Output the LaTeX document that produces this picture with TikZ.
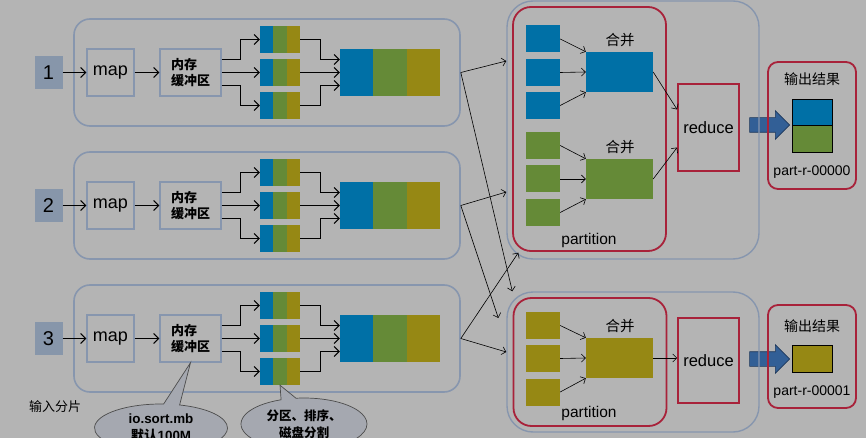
\documentclass[tikz,border=0pt]{standalone}
\usepackage{fontspec}
\setmainfont{Liberation Sans}
\newfontfamily\cjk{Noto Sans CJK SC}
\usetikzlibrary{positioning,calc,arrows.meta,shapes.callouts,shapes.arrows}

\definecolor{bgc}{RGB}{180,180,180}
\definecolor{cblue}{RGB}{0,112,166}
\definecolor{cgreen}{RGB}{101,138,55}
\definecolor{colive}{RGB}{150,136,20}
\definecolor{framec}{RGB}{135,150,174}
\definecolor{redc}{RGB}{168,34,58}
\definecolor{inc}{RGB}{135,150,170}
\definecolor{notec}{RGB}{165,168,176}
\definecolor{arrowc}{RGB}{50,95,150}
\definecolor{arrowd}{RGB}{30,55,90}

\begin{document}
\begin{tikzpicture}[x=1pt,y=-1pt,
  >={Straight Barb[length=5pt,width=10pt]},
  group/.style={draw=framec, line width=1.6pt, rounded corners=16pt, minimum width=386pt, minimum height=107pt},
  inbox/.style={fill=inc, minimum width=28pt, minimum height=33pt, inner sep=0pt, font=\fontsize{20}{24}\selectfont},
  box/.style={draw=framec, line width=1.4pt, minimum height=47pt, inner sep=0pt},
  tri/.style={inner sep=0pt, path picture={
    \foreach \col [count=\j from 0] in {cblue,cgreen,colive}
      \fill[\col] let \p1=(path picture bounding box.south west),
                      \p2=(path picture bounding box.north east) in
        ({\x1+\j*(\x2-\x1)/3},\y1) rectangle ({\x1+(\j+1)*(\x2-\x1)/3},\y2);
  }},
  flow/.style={->, line width=1pt},
  thin/.style={->, line width=0.6pt, >={Straight Barb[length=4pt,width=8pt]}},
  rframe/.style={draw=framec, line width=1.4pt, rounded corners=26pt, minimum width=252pt},
  part/.style={draw=redc, line width=1.8pt, rounded corners=18pt, minimum width=153pt},
  redbox/.style={draw=redc, line width=1.8pt, minimum width=61pt, inner sep=0pt, font=\fontsize{16.5}{20}\selectfont},
  sq/.style={minimum width=34pt, minimum height=27pt, inner sep=0pt},
  merged/.style={minimum width=67pt, minimum height=40pt, inner sep=0pt},
  cjktext/.style={font=\cjk\fontsize{14.5}{17}\selectfont},
  outbox/.style={draw=redc, line width=1.8pt, rounded corners=10pt, minimum width=88pt},
  res/.style={draw=black, line width=0.8pt, minimum width=40pt, minimum height=27pt, inner sep=0pt},
  bigarrow/.style={single arrow, fill=arrowc, draw=arrowd, line width=0.6pt, minimum height=40pt, inner xsep=0pt, inner ysep=7pt, single arrow head extend=7pt},
  note/.style={ellipse callout, fill=notec, draw=black!70, line width=0.7pt, inner sep=0pt, align=center, callout pointer arc=14}]
\useasboundingbox (0,0) rectangle (866,438);
\clip (0,0) rectangle (866,438);
\fill[bgc] (0,0) rectangle (866,438);

% map side
\foreach \i/\g in {1/72.5,2/205.5,3/338.5}{
  \node[group] (grp\i) at (267,\g) {};
  \node[inbox] (in\i) at (48.5,\g) {\i};
  \node[box, minimum width=47pt, font=\fontsize{18}{21}\selectfont] (map\i) at (110.5,\g) {map};
  \node[box, minimum width=61pt, align=left, font=\cjk\bfseries\fontsize{13}{15.5}\selectfont] (buf\i) at (190.5,\g) {内存\\缓冲区};
  \node[tri, minimum width=40pt, minimum height=27pt] (sa\i) at (280,\g-33) {};
  \node[tri, minimum width=40pt, minimum height=27pt] (sb\i) at (280,\g) {};
  \node[tri, minimum width=40pt, minimum height=27pt] (sc\i) at (280,\g+33) {};
  \node[tri, minimum width=100pt, minimum height=47pt] (big\i) at (390,\g) {};
  \draw[flow] (in\i) -- (map\i);
  \draw[flow] (map\i) -- (buf\i);
  \draw[flow] ([yshift=13pt]buf\i.east) -- ++(19,0) |- (sa\i.west);
  \draw[flow] (buf\i) -- (sb\i);
  \draw[flow] ([yshift=-13pt]buf\i.east) -- ++(19,0) |- (sc\i.west);
  \draw[flow] (sa\i.east) -- ++(20,0) |- ([yshift=13pt]big\i.west);
  \draw[flow] (sb\i) -- (big\i);
  \draw[flow] (sc\i.east) -- ++(20,0) |- ([yshift=-13pt]big\i.west);
}
\node[font=\cjk\fontsize{13}{15}\selectfont] (split) at (55,407) {输入分片};

% big arrows first, frames on top
\node[bigarrow] (ar1) at (766,125) {};
\node[bigarrow] (ar2) at (766,359) {};

% reducer 1
\node[rframe, minimum height=258pt] (rg1) at (633,130) {};
\node[part, minimum height=244pt] (pt1) at (589.5,129) {};
\foreach \k/\yy in {1/39,2/72.5,3/105.5}
  \node[sq, fill=cblue] (b\k) at (543,\yy) {};
\foreach \k/\yy in {1/145.5,2/179,3/212.5}
  \node[sq, fill=cgreen] (g\k) at (543,\yy) {};
\node[merged, fill=cblue] (mb) at (619.5,72) {};
\node[merged, fill=cgreen] (mg) at (619.5,179) {};
\node[cjktext] (hb) at (620,40) {合并};
\node[cjktext] (hg) at (620,147) {合并};
\node[font=\fontsize{15.5}{18}\selectfont] (pn1) at (589,240) {partition};
\draw[thin] (b1.east) -- (mb.north west);
\draw[thin] (b2.east) -- (mb.west);
\draw[thin] (b3.east) -- (mb.south west);
\draw[thin] (g1.east) -- (mg.north west);
\draw[thin] (g2.east) -- (mg.west);
\draw[thin] (g3.east) -- (mg.south west);
\node[redbox, minimum height=87pt] (red1) at (708.5,127.5) {reduce};
\draw[thin] (mb.east) -- ([yshift=18pt]red1.west);
\draw[thin] (mg.east) -- ([yshift=-20pt]red1.west);
\node[outbox, minimum height=127pt] (out1) at (812,125.5) {};
\node[cjktext, font=\cjk\fontsize{14}{17}\selectfont] (ot1) at (812,79) {输出结果};
\node[res, fill=cblue] (oa1) at (812,112.5) {};
\node[res, fill=cgreen] (ob1) at (812,139) {};
\node[font=\fontsize{14}{17}\selectfont] (on1) at (812,172) {part-r-00000};

% reducer 2
\node[rframe, minimum height=140pt] (rg2) at (633,362) {};
\node[part, minimum height=128pt] (pt2) at (590,362) {};
\foreach \k/\yy in {1/325.5,2/358.5,3/392}
  \node[sq, fill=colive] (o\k) at (543,\yy) {};
\node[merged, fill=colive] (mo) at (619.5,358) {};
\node[cjktext] (ho) at (620,326) {合并};
\node[font=\fontsize{15.5}{18}\selectfont] (pn2) at (589,413) {partition};
\draw[thin] (o1.east) -- (mo.north west);
\draw[thin] (o2.east) -- (mo.west);
\draw[thin] (o3.east) -- (mo.south west);
\node[redbox, minimum height=85pt] (red2) at (708.5,360.5) {reduce};
\draw[thin] (mo.east) -- (mo.east -| red2.west);
\node[outbox, minimum height=103pt] (out2) at (812,356.5) {};
\node[cjktext, font=\cjk\fontsize{14}{17}\selectfont] (ot2) at (812,326) {输出结果};
\node[res, fill=colive] (oc2) at (812,358.5) {};
\node[font=\fontsize{14}{17}\selectfont] (on2) at (812,392) {part-r-00001};

% shuffle
\draw[thin] (grp1.east) -- ([yshift=69pt]rg1.west);
\draw[thin] (grp1.east) -- ([xshift=6pt]rg2.north west);
\draw[thin] (grp2.east) -- ([yshift=-62pt]rg1.west);
\draw[thin] (grp2.east) -- ([shift={(-8pt,44pt)}]rg2.west);
\draw[thin] (grp3.east) -- ([yshift=10pt]rg2.west);
\draw[thin] (grp3.east) -- ([shift={(12pt,7pt)}]rg1.south west);

% callouts
\node[note, minimum width=133pt, minimum height=48pt, font=\bfseries\fontsize{13.4}{17}\selectfont,
  callout absolute pointer={(buf3.south)}] (note1) at (161,428) {io.sort.mb\\{\cjk 默认}100M};
\node[note, minimum width=126pt, minimum height=52pt, font=\cjk\bfseries\fontsize{12.5}{17}\selectfont,
  callout absolute pointer={(sc3.south)}] (note2) at (304,424) {分区、排序、\\磁盘分割};
\end{tikzpicture}
\end{document}
